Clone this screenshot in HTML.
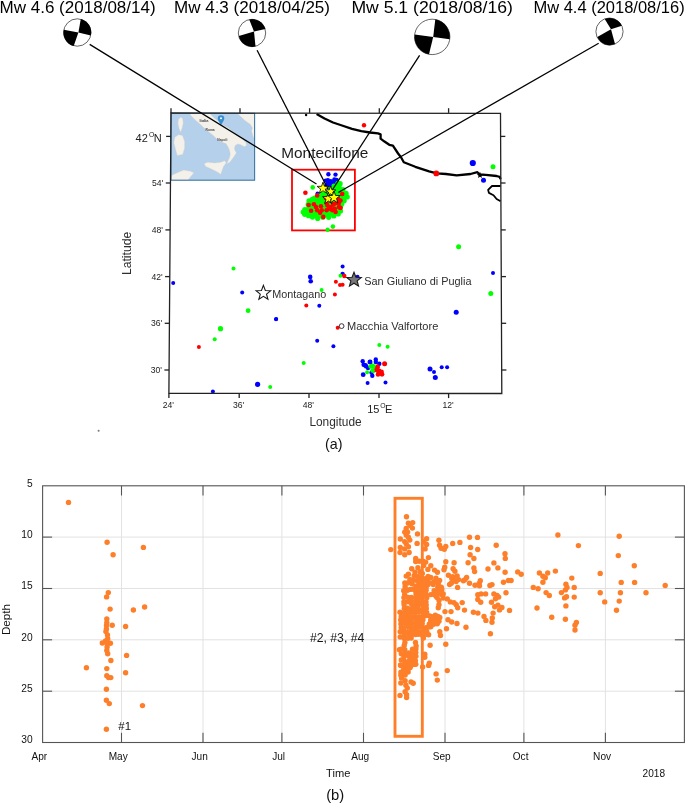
<!DOCTYPE html>
<html><head><meta charset="utf-8"><title>Figure</title>
<style>html,body{margin:0;padding:0;background:#fff;overflow:hidden;} svg{display:block;will-change:transform;} text{font-family:"Liberation Sans", sans-serif;}</style>
</head><body>
<svg width="685" height="803" viewBox="0 0 685 803">
<rect width="685" height="803" fill="#fff"/>
<text x="-0.5" y="13.3" font-size="16.4" fill="#000" textLength="156.2" lengthAdjust="spacingAndGlyphs">Mw 4.6 (2018/08/14)</text>
<text x="174.0" y="13.3" font-size="16.6" fill="#000" textLength="156.0" lengthAdjust="spacingAndGlyphs">Mw 4.3 (2018/04/25)</text>
<text x="351.4" y="13.2" font-size="17.2" fill="#000" textLength="161.5" lengthAdjust="spacingAndGlyphs">Mw 5.1 (2018/08/16)</text>
<text x="533.4" y="13.3" font-size="16.4" fill="#000" textLength="151.3" lengthAdjust="spacingAndGlyphs">Mw 4.4 (2018/08/16)</text>
<circle cx="77.3" cy="32.5" r="13.7" fill="#fff" stroke="#333" stroke-width="0.75"/>
<path d="M80.8,18.9 L78.4,32.6 L90.8,35.4 A13.7,13.7 0 0 0 80.8,18.9 Z" fill="#000"/>
<path d="M63.7,29.8 L78.4,32.6 L73.7,46.0 A13.7,13.7 0 0 1 63.7,29.8 Z" fill="#000"/>
<circle cx="252.0" cy="33.0" r="13.7" fill="#fff" stroke="#333" stroke-width="0.75"/>
<path d="M249.2,19.4 L254.0,31.6 L265.4,29.1 A13.7,13.7 0 0 0 249.2,19.4 Z" fill="#000"/>
<path d="M238.8,36.0 L254.0,31.6 L255.5,46.5 A13.7,13.7 0 0 1 238.8,36.0 Z" fill="#000"/>
<circle cx="432.2" cy="36.9" r="17.7" fill="#fff" stroke="#333" stroke-width="0.75"/>
<path d="M435.3,19.3 L433.2,36.9 L449.7,39.3 A17.7,17.7 0 0 0 435.3,19.3 Z" fill="#000"/>
<path d="M414.7,34.4 L433.2,36.9 L429.0,54.3 A17.7,17.7 0 0 1 414.7,34.4 Z" fill="#000"/>
<circle cx="609.5" cy="31.6" r="13.6" fill="#fff" stroke="#333" stroke-width="0.75"/>
<path d="M604.7,19.0 L611.0,29.2 L621.9,25.8 A13.6,13.6 0 0 0 604.7,19.0 Z" fill="#000"/>
<path d="M597.3,37.1 L611.0,29.2 L615.0,44.1 A13.6,13.6 0 0 1 597.3,37.1 Z" fill="#000"/>
<rect x="171.0" y="113.4" width="83.6" height="66.79999999999998" fill="#b5d0ea"/>
<polygon points="178.5,119.1 180.9,117.3 182.7,118.6 183.2,123.1 182.2,127.8 180.6,132.3 179.0,128.3 178.0,123.5" fill="#f4f1ea" stroke="#d6d0c4" stroke-width="0.35"/>
<polygon points="174.8,137.3 178.5,134.7 182.5,135.4 184.6,141.5 184.6,148.1 182.7,154.4 177.2,155.4 175.6,149.4 173.8,142.8" fill="#f4f1ea" stroke="#d6d0c4" stroke-width="0.35"/>
<polygon points="204.1,163.8 207.7,162.2 214.3,163.0 220.8,162.2 224.8,160.7 226.1,162.9 223.5,166.5 222.1,170.4 220.8,174.3 216.9,171.7 211.4,169.1 205.8,166.5" fill="#f4f1ea" stroke="#d6d0c4" stroke-width="0.35"/>
<polygon points="170.9,175.7 177.2,172.8 183.8,170.1 190.3,171.2 193.9,172.8 190.6,176.7 187.7,180.4 170.9,180.4" fill="#f4f1ea" stroke="#d6d0c4" stroke-width="0.35"/>
<polygon points="189.5,113.4 190.9,115.6 195.3,120.0 200.5,124.4 204.9,128.8 209.3,132.3 213.6,135.8 217.1,139.3 221.5,141.9 225.9,143.6 227.7,146.3 229.4,149.8 230.3,154.2 229.4,158.0 228.0,161.0 226.8,163.8 229.8,162.2 233.7,157.0 236.3,153.0 234.4,149.1 235.0,145.8 237.6,143.9 240.3,144.5 244.2,146.7 246.5,145.4 246.0,142.8 242.5,139.3 238.2,136.6 233.8,133.1 229.4,128.8 226.8,127.0 222.4,125.3 218.9,121.8 214.5,118.3 211.0,114.8 210.1,113.4" fill="#f4f1ea" stroke="#d6d0c4" stroke-width="0.35"/>
<polygon points="237.3,113.4 240.8,116.5 244.3,120.0 247.8,122.6 250.5,124.6 252.5,128.0 251.5,131.0 253.0,136.0 254.6,140.0 254.6,113.4" fill="#f4f1ea" stroke="#d6d0c4" stroke-width="0.35"/>
<rect x="171.0" y="113.4" width="83.6" height="66.79999999999998" fill="none" stroke="#3d77a3" stroke-width="1.1"/>
<text x="199.5" y="121.8" font-size="3.9" fill="#444" text-anchor="start" font-weight="bold">Italia</text>
<text x="205.5" y="131.1" font-size="3.3" fill="#444" text-anchor="start" font-weight="bold">Roma</text>
<text x="217.3" y="141.2" font-size="3.3" fill="#444" text-anchor="start" font-weight="bold">Napoli</text>
<path d="M221.0,125.3 C219.5,122.2 217.7,120.7 217.7,118.5 A3.3,3.3 0 1 1 224.3,118.5 C224.3,120.7 222.5,122.2 221.0,125.3 Z" fill="#3b8fd1"/>
<circle cx="221.0" cy="118.3" r="1.0" fill="#fff"/>
<polyline points="316.6,114.1 324.5,118.5 333,122.5 342,125.5 352,128.8 361.3,131.1 370,132.5 378,133.4 380.6,134.3 380.6,138.7 384.1,141.3 389.3,144.8 392.9,145.7 398.1,153.5 401,157.2 403.8,162.2 415.3,166.8 429.1,171.4 436.8,173.4 446,174 456.7,175.3 470.5,174 477.4,172.2 479.7,174.5 485.8,174.9 496.6,176 499.6,176.8 500.6,179.1" fill="none" stroke="#000" stroke-width="2.3" stroke-linejoin="round"/>
<polyline points="500.6,186 492,186 488.1,189.8 488.9,192.9 493.5,195.2 496.6,199 500.6,201.3" fill="none" stroke="#000" stroke-width="1.8" stroke-linejoin="round"/>
<circle cx="306.1" cy="115.0" r="1.2" fill="#000"/>
<polygon points="480.00,171.80 480.88,173.99 483.23,174.15 481.43,175.66 482.00,177.95 480.00,176.70 478.00,177.95 478.57,175.66 476.77,174.15 479.12,173.99" fill="#000"/>
<rect x="292.0" y="169.7" width="62.9" height="60.7" fill="none" stroke="#f00" stroke-width="1.8"/>
<polygon points="325.7,180.6 327.9,180.3 330.8,181.3 334.4,179.5 336.6,179.9 334.8,183.1 331.8,185.3 328.9,187.1 326.4,185.2" fill="#0000ff" stroke="none" stroke-width="0"/>
<circle cx="325.7" cy="180.6" r="2.2" fill="#0000ff"/>
<circle cx="327.9" cy="180.3" r="2.2" fill="#0000ff"/>
<circle cx="330.8" cy="181.3" r="2.2" fill="#0000ff"/>
<circle cx="334.4" cy="179.5" r="2.2" fill="#0000ff"/>
<circle cx="336.6" cy="179.9" r="2.2" fill="#0000ff"/>
<circle cx="334.8" cy="183.1" r="2.2" fill="#0000ff"/>
<circle cx="331.8" cy="185.3" r="2.2" fill="#0000ff"/>
<circle cx="328.9" cy="187.1" r="2.2" fill="#0000ff"/>
<circle cx="326.4" cy="185.2" r="2.2" fill="#0000ff"/>
<circle cx="328.4" cy="174.2" r="2.2" fill="#0000ff"/>
<circle cx="335.5" cy="174.6" r="2.2" fill="#0000ff"/>
<circle cx="317.5" cy="193.5" r="2.0" fill="#0000ff"/>
<polygon points="312.2,199.4 309.0,200.8 308.2,204.4 304.8,209.7 303.2,212.1 304.7,214.3 308.6,215.7 312.5,217.1 317.7,218.4 322.9,217.3 328.7,217.3 333.8,216.0 338.2,213.9 340.5,211.0 340.7,206.6 341.8,203.7 344.2,200.7 347.2,196.9 346.1,193.3 343.0,189.5 340.1,183.7 337.9,183.4 334.0,186.0 330.1,189.3 325.2,193.5 321.8,194.2 318.3,196.1 314.5,198.1" fill="#00ff00" stroke="none" stroke-width="0"/>
<circle cx="312.2" cy="199.4" r="2.6" fill="#00ff00"/>
<circle cx="309.0" cy="200.8" r="2.6" fill="#00ff00"/>
<circle cx="308.2" cy="204.4" r="2.6" fill="#00ff00"/>
<circle cx="304.8" cy="209.7" r="2.6" fill="#00ff00"/>
<circle cx="303.2" cy="212.1" r="2.6" fill="#00ff00"/>
<circle cx="304.7" cy="214.3" r="2.6" fill="#00ff00"/>
<circle cx="308.6" cy="215.7" r="2.6" fill="#00ff00"/>
<circle cx="312.5" cy="217.1" r="2.6" fill="#00ff00"/>
<circle cx="317.7" cy="218.4" r="2.6" fill="#00ff00"/>
<circle cx="322.9" cy="217.3" r="2.6" fill="#00ff00"/>
<circle cx="328.7" cy="217.3" r="2.6" fill="#00ff00"/>
<circle cx="333.8" cy="216.0" r="2.6" fill="#00ff00"/>
<circle cx="338.2" cy="213.9" r="2.6" fill="#00ff00"/>
<circle cx="340.5" cy="211.0" r="2.6" fill="#00ff00"/>
<circle cx="340.7" cy="206.6" r="2.6" fill="#00ff00"/>
<circle cx="341.8" cy="203.7" r="2.6" fill="#00ff00"/>
<circle cx="344.2" cy="200.7" r="2.6" fill="#00ff00"/>
<circle cx="347.2" cy="196.9" r="2.6" fill="#00ff00"/>
<circle cx="346.1" cy="193.3" r="2.6" fill="#00ff00"/>
<circle cx="343.0" cy="189.5" r="2.6" fill="#00ff00"/>
<circle cx="340.1" cy="183.7" r="2.6" fill="#00ff00"/>
<circle cx="337.9" cy="183.4" r="2.6" fill="#00ff00"/>
<circle cx="334.0" cy="186.0" r="2.6" fill="#00ff00"/>
<circle cx="330.1" cy="189.3" r="2.6" fill="#00ff00"/>
<circle cx="325.2" cy="193.5" r="2.6" fill="#00ff00"/>
<circle cx="321.8" cy="194.2" r="2.6" fill="#00ff00"/>
<circle cx="318.3" cy="196.1" r="2.6" fill="#00ff00"/>
<circle cx="314.5" cy="198.1" r="2.6" fill="#00ff00"/>
<circle cx="312.7" cy="187.4" r="2.3" fill="#00ff00"/>
<circle cx="332.9" cy="226.6" r="2.3" fill="#00ff00"/>
<circle cx="327.6" cy="229.8" r="2.2" fill="#00ff00"/>
<circle cx="305.4" cy="192.8" r="2.3" fill="#ff0000"/>
<circle cx="317.2" cy="195.5" r="2.3" fill="#ff0000"/>
<circle cx="342.2" cy="194.0" r="2.3" fill="#ff0000"/>
<circle cx="308.6" cy="205.0" r="2.3" fill="#ff0000"/>
<circle cx="313.9" cy="204.2" r="2.3" fill="#ff0000"/>
<circle cx="311.1" cy="210.8" r="2.3" fill="#ff0000"/>
<circle cx="317.2" cy="210.3" r="2.3" fill="#ff0000"/>
<circle cx="320.9" cy="206.3" r="2.3" fill="#ff0000"/>
<circle cx="321.7" cy="210.3" r="2.3" fill="#ff0000"/>
<circle cx="320.1" cy="212.8" r="2.3" fill="#ff0000"/>
<circle cx="323.3" cy="216.9" r="2.3" fill="#ff0000"/>
<circle cx="327.4" cy="205.4" r="2.3" fill="#ff0000"/>
<circle cx="330.7" cy="207.1" r="2.3" fill="#ff0000"/>
<circle cx="326.6" cy="210.3" r="2.3" fill="#ff0000"/>
<circle cx="332.3" cy="210.3" r="2.3" fill="#ff0000"/>
<circle cx="335.6" cy="212.0" r="2.3" fill="#ff0000"/>
<circle cx="338.9" cy="203.0" r="2.3" fill="#ff0000"/>
<circle cx="340.5" cy="207.9" r="2.3" fill="#ff0000"/>
<circle cx="338.1" cy="198.9" r="2.3" fill="#ff0000"/>
<circle cx="325.8" cy="198.1" r="2.3" fill="#ff0000"/>
<circle cx="334.0" cy="204.0" r="2.3" fill="#ff0000"/>
<circle cx="316.0" cy="207.0" r="2.3" fill="#ff0000"/>
<circle cx="326.6" cy="203.0" r="2.3" fill="#ff0000"/>
<circle cx="330.7" cy="200.5" r="2.3" fill="#ff0000"/>
<circle cx="336.4" cy="203.0" r="2.3" fill="#ff0000"/>
<circle cx="338.9" cy="207.1" r="2.3" fill="#ff0000"/>
<circle cx="334.8" cy="208.7" r="2.3" fill="#ff0000"/>
<circle cx="329.1" cy="208.7" r="2.3" fill="#ff0000"/>
<circle cx="333.2" cy="204.6" r="2.3" fill="#ff0000"/>
<circle cx="340.5" cy="200.5" r="2.3" fill="#ff0000"/>
<circle cx="364.0" cy="125.2" r="2.2" fill="#ff0000"/>
<circle cx="436.3" cy="173.4" r="2.9" fill="#ff0000"/>
<circle cx="472.8" cy="163.0" r="3.1" fill="#0000ff"/>
<circle cx="493.0" cy="166.8" r="2.5" fill="#00ff00"/>
<circle cx="483.5" cy="180.2" r="2.5" fill="#0000ff"/>
<circle cx="458.6" cy="246.8" r="2.5" fill="#00ff00"/>
<circle cx="493.0" cy="272.9" r="2.0" fill="#0000ff"/>
<circle cx="490.8" cy="293.4" r="2.5" fill="#00ff00"/>
<circle cx="456.2" cy="312.2" r="2.5" fill="#0000ff"/>
<circle cx="173.2" cy="282.9" r="2.0" fill="#0000ff"/>
<circle cx="233.5" cy="268.4" r="2.0" fill="#00ff00"/>
<circle cx="242.2" cy="292.4" r="2.0" fill="#0000ff"/>
<circle cx="248.1" cy="310.7" r="2.4" fill="#00ff00"/>
<circle cx="276.2" cy="319.1" r="2.0" fill="#0000ff"/>
<circle cx="220.5" cy="328.7" r="2.6" fill="#00ff00"/>
<circle cx="214.7" cy="339.3" r="2.0" fill="#00ff00"/>
<circle cx="198.9" cy="347.1" r="2.0" fill="#ff0000"/>
<circle cx="257.6" cy="384.3" r="2.6" fill="#0000ff"/>
<circle cx="270.2" cy="387.1" r="2.0" fill="#00ff00"/>
<circle cx="212.9" cy="391.5" r="2.0" fill="#0000ff"/>
<circle cx="342.6" cy="266.4" r="2.0" fill="#0000ff"/>
<circle cx="310.2" cy="276.9" r="2.3" fill="#0000ff"/>
<circle cx="310.7" cy="281.3" r="2.3" fill="#0000ff"/>
<circle cx="342.6" cy="273.9" r="2.2" fill="#0000ff"/>
<circle cx="340.5" cy="275.7" r="2.0" fill="#00ff00"/>
<circle cx="344.3" cy="276.0" r="2.2" fill="#ff0000"/>
<circle cx="335.9" cy="281.8" r="2.0" fill="#ff0000"/>
<circle cx="340.0" cy="285.1" r="2.0" fill="#ff0000"/>
<circle cx="342.6" cy="284.8" r="2.0" fill="#ff0000"/>
<circle cx="321.6" cy="290.0" r="2.0" fill="#00ff00"/>
<circle cx="334.9" cy="294.4" r="2.0" fill="#ff0000"/>
<circle cx="306.3" cy="305.5" r="2.0" fill="#ff0000"/>
<circle cx="319.3" cy="305.8" r="2.0" fill="#0000ff"/>
<circle cx="276.0" cy="319.3" r="2.0" fill="#0000ff"/>
<circle cx="337.7" cy="327.7" r="2.0" fill="#ff0000"/>
<circle cx="317.2" cy="340.7" r="2.0" fill="#0000ff"/>
<circle cx="333.4" cy="346.3" r="2.0" fill="#0000ff"/>
<circle cx="379.3" cy="345.1" r="2.0" fill="#00ff00"/>
<circle cx="387.6" cy="346.8" r="2.0" fill="#00ff00"/>
<circle cx="303.7" cy="362.9" r="2.0" fill="#00ff00"/>
<circle cx="362.7" cy="361.2" r="2.2" fill="#0000ff"/>
<circle cx="363.6" cy="364.7" r="2.2" fill="#0000ff"/>
<circle cx="366.2" cy="366.4" r="2.2" fill="#0000ff"/>
<circle cx="369.7" cy="362.0" r="2.2" fill="#0000ff"/>
<circle cx="375.8" cy="359.4" r="2.2" fill="#0000ff"/>
<circle cx="375.8" cy="362.0" r="2.2" fill="#0000ff"/>
<circle cx="379.3" cy="363.8" r="2.2" fill="#0000ff"/>
<circle cx="363.2" cy="374.7" r="2.4" fill="#0000ff"/>
<circle cx="371.5" cy="372.6" r="2.2" fill="#0000ff"/>
<circle cx="372.3" cy="375.7" r="2.2" fill="#0000ff"/>
<circle cx="367.6" cy="383.1" r="2.0" fill="#0000ff"/>
<circle cx="385.5" cy="382.5" r="2.0" fill="#0000ff"/>
<circle cx="368.0" cy="368.0" r="2.2" fill="#0000ff"/>
<circle cx="372.3" cy="365.5" r="2.2" fill="#00ff00"/>
<circle cx="367.1" cy="372.2" r="2.0" fill="#00ff00"/>
<circle cx="373.7" cy="370.8" r="2.2" fill="#00ff00"/>
<circle cx="370.5" cy="366.5" r="2.2" fill="#00ff00"/>
<circle cx="377.6" cy="366.4" r="2.2" fill="#ff0000"/>
<circle cx="384.6" cy="363.8" r="2.5" fill="#ff0000"/>
<circle cx="375.8" cy="369.9" r="2.2" fill="#ff0000"/>
<circle cx="379.3" cy="371.7" r="2.2" fill="#ff0000"/>
<circle cx="382.0" cy="374.3" r="2.4" fill="#ff0000"/>
<circle cx="378.5" cy="372.6" r="2.2" fill="#ff0000"/>
<circle cx="365.5" cy="365.4" r="2.4" fill="#0000ff"/>
<circle cx="370.2" cy="361.9" r="2.3" fill="#0000ff"/>
<circle cx="373.5" cy="366.5" r="2.4" fill="#00ff00"/>
<circle cx="372.5" cy="370.5" r="2.3" fill="#00ff00"/>
<circle cx="379.0" cy="371.0" r="2.4" fill="#ff0000"/>
<circle cx="381.5" cy="372.0" r="2.4" fill="#ff0000"/>
<circle cx="378.0" cy="374.5" r="2.3" fill="#ff0000"/>
<circle cx="377.5" cy="367.5" r="2.3" fill="#ff0000"/>
<circle cx="430.0" cy="369.0" r="2.5" fill="#0000ff"/>
<circle cx="434.0" cy="372.0" r="2.0" fill="#0000ff"/>
<circle cx="435.3" cy="377.4" r="2.5" fill="#0000ff"/>
<circle cx="441.7" cy="367.3" r="2.0" fill="#0000ff"/>
<circle cx="447.1" cy="367.3" r="2.0" fill="#0000ff"/>
<circle cx="357.5" cy="276.8" r="2.0" fill="#0000ff"/>
<polygon points="263.40,285.40 265.34,290.43 270.72,290.72 266.54,294.12 267.93,299.33 263.40,296.40 258.87,299.33 260.26,294.12 256.08,290.72 261.46,290.43" fill="#fff" stroke="#1a1a1a" stroke-width="1.1"/>
<polygon points="354.00,272.20 355.94,277.23 361.32,277.52 357.14,280.92 358.53,286.13 354.00,283.20 349.47,286.13 350.86,280.92 346.68,277.52 352.06,277.23" fill="#777" stroke="#1a1a1a" stroke-width="1.1"/>
<circle cx="341.6" cy="326.1" r="2.4" fill="#fff" stroke="#222" stroke-width="0.9"/>
<text x="272.3" y="297.9" font-size="10.8" fill="#2e2e2e" text-anchor="start">Montagano</text>
<text x="364.3" y="284.5" font-size="10.9" fill="#2e2e2e" text-anchor="start">San Giuliano di Puglia</text>
<text x="347.0" y="329.6" font-size="11.05" fill="#2e2e2e" text-anchor="start">Macchia Valfortore</text>
<text x="281.3" y="157.6" font-size="15.35" fill="#1c1c1c" text-anchor="start">Montecilfone</text>
<polygon points="171.0,112.9 500.5,113.4 501.8,393.5 168.9,393.4" fill="none" stroke="#222" stroke-width="1.3"/>
<line x1="171.0" y1="112.9" x2="171.0" y2="108.2" stroke="#222" stroke-width="1.3"/>
<line x1="240.0" y1="112.9" x2="240.0" y2="108.2" stroke="#222" stroke-width="1.3"/>
<line x1="309.6" y1="112.9" x2="309.6" y2="108.2" stroke="#222" stroke-width="1.3"/>
<line x1="379.3" y1="112.9" x2="379.3" y2="108.2" stroke="#222" stroke-width="1.3"/>
<line x1="448.6" y1="112.9" x2="448.6" y2="108.2" stroke="#222" stroke-width="1.3"/>
<line x1="168.9" y1="393.4" x2="168.9" y2="398.09999999999997" stroke="#222" stroke-width="1.3"/>
<line x1="239.2" y1="393.4" x2="239.2" y2="398.09999999999997" stroke="#222" stroke-width="1.3"/>
<line x1="309.0" y1="393.4" x2="309.0" y2="398.09999999999997" stroke="#222" stroke-width="1.3"/>
<line x1="379.0" y1="393.4" x2="379.0" y2="398.09999999999997" stroke="#222" stroke-width="1.3"/>
<line x1="448.6" y1="393.4" x2="448.6" y2="398.09999999999997" stroke="#222" stroke-width="1.3"/>
<line x1="170.82" y1="136.4" x2="166.12" y2="136.4" stroke="#222" stroke-width="1.3"/>
<line x1="500.61" y1="136.4" x2="505.31" y2="136.4" stroke="#222" stroke-width="1.3"/>
<line x1="170.48" y1="183.0" x2="165.78" y2="183.0" stroke="#222" stroke-width="1.3"/>
<line x1="500.82" y1="183.0" x2="505.52" y2="183.0" stroke="#222" stroke-width="1.3"/>
<line x1="170.12" y1="229.9" x2="165.42" y2="229.9" stroke="#222" stroke-width="1.3"/>
<line x1="501.04" y1="229.9" x2="505.74" y2="229.9" stroke="#222" stroke-width="1.3"/>
<line x1="169.77" y1="276.6" x2="165.07" y2="276.6" stroke="#222" stroke-width="1.3"/>
<line x1="501.26" y1="276.6" x2="505.96" y2="276.6" stroke="#222" stroke-width="1.3"/>
<line x1="169.42" y1="323.3" x2="164.72" y2="323.3" stroke="#222" stroke-width="1.3"/>
<line x1="501.47" y1="323.3" x2="506.17" y2="323.3" stroke="#222" stroke-width="1.3"/>
<line x1="169.08" y1="370.0" x2="164.38" y2="370.0" stroke="#222" stroke-width="1.3"/>
<line x1="501.69" y1="370.0" x2="506.39" y2="370.0" stroke="#222" stroke-width="1.3"/>
<text x="135.6" y="141.8" font-size="11" fill="#222" text-anchor="start">42</text>
<text x="148.9" y="136.8" font-size="6.8" fill="#222" text-anchor="start">O</text>
<text x="153.7" y="141.8" font-size="11" fill="#222" text-anchor="start">N</text>
<text x="367.2" y="412.9" font-size="11" fill="#222" text-anchor="start">15</text>
<text x="380.3" y="408.0" font-size="6.8" fill="#222" text-anchor="start">O</text>
<text x="385.0" y="412.9" font-size="11" fill="#222" text-anchor="start">E</text>
<text x="163.3" y="186.1" font-size="8.6" fill="#222" text-anchor="end">54'</text>
<text x="162.9" y="233.0" font-size="8.6" fill="#222" text-anchor="end">48'</text>
<text x="162.6" y="279.7" font-size="8.6" fill="#222" text-anchor="end">42'</text>
<text x="162.2" y="326.4" font-size="8.6" fill="#222" text-anchor="end">36'</text>
<text x="161.9" y="373.1" font-size="8.6" fill="#222" text-anchor="end">30'</text>
<text x="168.3" y="408.0" font-size="8.6" fill="#222" text-anchor="middle">24'</text>
<text x="238.6" y="408.0" font-size="8.6" fill="#222" text-anchor="middle">36'</text>
<text x="308.4" y="408.0" font-size="8.6" fill="#222" text-anchor="middle">48'</text>
<text x="448.0" y="408.0" font-size="8.6" fill="#222" text-anchor="middle">12'</text>
<text x="0" y="0" font-size="12.2" fill="#2e2e2e" text-anchor="middle" transform="translate(130.9,253.4) rotate(-90)">Latitude</text>
<text x="335.5" y="426.1" font-size="11.9" fill="#2e2e2e" text-anchor="middle">Longitude</text>
<text x="333.7" y="448.8" font-size="14.3" fill="#111" text-anchor="middle">(a)</text>
<circle cx="98.6" cy="430.7" r="1.0" fill="#777"/>
<line x1="89.7" y1="44.4" x2="316.5" y2="184.0" stroke="#000" stroke-width="1.3"/>
<line x1="257.1" y1="50.2" x2="328.0" y2="189.0" stroke="#000" stroke-width="1.3"/>
<line x1="419.6" y1="55.4" x2="331.0" y2="192.0" stroke="#000" stroke-width="1.3"/>
<line x1="598.7" y1="43.2" x2="338.3" y2="192.5" stroke="#000" stroke-width="1.3"/>
<polygon points="330.60,186.00 331.92,189.79 335.93,189.87 332.73,192.29 333.89,196.13 330.60,193.84 327.31,196.13 328.47,192.29 325.27,189.87 329.28,189.79" fill="#ffff00" stroke="#000" stroke-width="0.8"/>
<polygon points="328.40,192.40 329.86,196.59 334.30,196.68 330.76,199.37 332.04,203.62 328.40,201.08 324.76,203.62 326.04,199.37 322.50,196.68 326.94,196.59" fill="#ffff00" stroke="#000" stroke-width="0.8"/>
<polygon points="323.00,182.10 324.46,186.29 328.90,186.38 325.36,189.07 326.64,193.32 323.00,190.78 319.36,193.32 320.64,189.07 317.10,186.38 321.54,186.29" fill="#ffff00" stroke="#000" stroke-width="0.8"/>
<polygon points="334.00,191.00 335.55,195.46 340.28,195.56 336.51,198.42 337.88,202.94 334.00,200.24 330.12,202.94 331.49,198.42 327.72,195.56 332.45,195.46" fill="#ffff00" stroke="#000" stroke-width="0.8"/>
<line x1="121.5" y1="485.8" x2="121.5" y2="742.5" stroke="#e2e2e2" stroke-width="1"/>
<line x1="203.0" y1="485.8" x2="203.0" y2="742.5" stroke="#e2e2e2" stroke-width="1"/>
<line x1="281.9" y1="485.8" x2="281.9" y2="742.5" stroke="#e2e2e2" stroke-width="1"/>
<line x1="363.5" y1="485.8" x2="363.5" y2="742.5" stroke="#e2e2e2" stroke-width="1"/>
<line x1="445.0" y1="485.8" x2="445.0" y2="742.5" stroke="#e2e2e2" stroke-width="1"/>
<line x1="523.9" y1="485.8" x2="523.9" y2="742.5" stroke="#e2e2e2" stroke-width="1"/>
<line x1="605.4" y1="485.8" x2="605.4" y2="742.5" stroke="#e2e2e2" stroke-width="1"/>
<line x1="42.6" y1="537.1" x2="684.4" y2="537.1" stroke="#e2e2e2" stroke-width="1"/>
<line x1="42.6" y1="588.5" x2="684.4" y2="588.5" stroke="#e2e2e2" stroke-width="1"/>
<line x1="42.6" y1="639.8" x2="684.4" y2="639.8" stroke="#e2e2e2" stroke-width="1"/>
<line x1="42.6" y1="691.2" x2="684.4" y2="691.2" stroke="#e2e2e2" stroke-width="1"/>
<circle cx="419.0" cy="583.3" r="2.7" fill="#fe7f2a"/>
<circle cx="405.1" cy="586.8" r="2.7" fill="#fe7f2a"/>
<circle cx="416.0" cy="586.2" r="2.7" fill="#fe7f2a"/>
<circle cx="418.9" cy="586.3" r="2.7" fill="#fe7f2a"/>
<circle cx="422.5" cy="586.7" r="2.7" fill="#fe7f2a"/>
<circle cx="426.3" cy="586.5" r="2.7" fill="#fe7f2a"/>
<circle cx="437.8" cy="587.2" r="2.7" fill="#fe7f2a"/>
<circle cx="441.3" cy="587.2" r="2.7" fill="#fe7f2a"/>
<circle cx="403.7" cy="590.7" r="2.7" fill="#fe7f2a"/>
<circle cx="407.6" cy="590.3" r="2.7" fill="#fe7f2a"/>
<circle cx="415.3" cy="590.3" r="2.7" fill="#fe7f2a"/>
<circle cx="419.3" cy="590.7" r="2.7" fill="#fe7f2a"/>
<circle cx="422.3" cy="590.4" r="2.7" fill="#fe7f2a"/>
<circle cx="426.2" cy="590.0" r="2.7" fill="#fe7f2a"/>
<circle cx="434.1" cy="590.7" r="2.7" fill="#fe7f2a"/>
<circle cx="438.3" cy="590.2" r="2.7" fill="#fe7f2a"/>
<circle cx="441.6" cy="590.3" r="2.7" fill="#fe7f2a"/>
<circle cx="404.7" cy="594.5" r="2.7" fill="#fe7f2a"/>
<circle cx="416.0" cy="593.5" r="2.7" fill="#fe7f2a"/>
<circle cx="418.7" cy="593.9" r="2.7" fill="#fe7f2a"/>
<circle cx="422.3" cy="593.6" r="2.7" fill="#fe7f2a"/>
<circle cx="426.0" cy="594.2" r="2.7" fill="#fe7f2a"/>
<circle cx="430.7" cy="594.6" r="2.7" fill="#fe7f2a"/>
<circle cx="433.5" cy="594.3" r="2.7" fill="#fe7f2a"/>
<circle cx="437.9" cy="593.5" r="2.7" fill="#fe7f2a"/>
<circle cx="441.9" cy="594.7" r="2.7" fill="#fe7f2a"/>
<circle cx="403.9" cy="597.6" r="2.7" fill="#fe7f2a"/>
<circle cx="408.1" cy="597.5" r="2.7" fill="#fe7f2a"/>
<circle cx="411.4" cy="597.4" r="2.7" fill="#fe7f2a"/>
<circle cx="415.8" cy="597.0" r="2.7" fill="#fe7f2a"/>
<circle cx="419.3" cy="597.6" r="2.7" fill="#fe7f2a"/>
<circle cx="422.2" cy="597.5" r="2.7" fill="#fe7f2a"/>
<circle cx="426.8" cy="597.7" r="2.7" fill="#fe7f2a"/>
<circle cx="437.1" cy="597.4" r="2.7" fill="#fe7f2a"/>
<circle cx="403.9" cy="602.0" r="2.7" fill="#fe7f2a"/>
<circle cx="408.2" cy="601.7" r="2.7" fill="#fe7f2a"/>
<circle cx="411.2" cy="600.8" r="2.7" fill="#fe7f2a"/>
<circle cx="415.8" cy="601.3" r="2.7" fill="#fe7f2a"/>
<circle cx="418.6" cy="602.0" r="2.7" fill="#fe7f2a"/>
<circle cx="423.1" cy="601.8" r="2.7" fill="#fe7f2a"/>
<circle cx="426.0" cy="601.9" r="2.7" fill="#fe7f2a"/>
<circle cx="404.1" cy="604.8" r="2.7" fill="#fe7f2a"/>
<circle cx="411.8" cy="604.6" r="2.7" fill="#fe7f2a"/>
<circle cx="415.3" cy="604.4" r="2.7" fill="#fe7f2a"/>
<circle cx="418.9" cy="604.4" r="2.7" fill="#fe7f2a"/>
<circle cx="423.2" cy="605.2" r="2.7" fill="#fe7f2a"/>
<circle cx="426.2" cy="605.1" r="2.7" fill="#fe7f2a"/>
<circle cx="404.3" cy="608.6" r="2.7" fill="#fe7f2a"/>
<circle cx="407.5" cy="608.3" r="2.7" fill="#fe7f2a"/>
<circle cx="411.2" cy="609.1" r="2.7" fill="#fe7f2a"/>
<circle cx="415.2" cy="608.3" r="2.7" fill="#fe7f2a"/>
<circle cx="418.6" cy="609.3" r="2.7" fill="#fe7f2a"/>
<circle cx="423.4" cy="609.0" r="2.7" fill="#fe7f2a"/>
<circle cx="426.3" cy="608.4" r="2.7" fill="#fe7f2a"/>
<circle cx="400.0" cy="612.3" r="2.7" fill="#fe7f2a"/>
<circle cx="404.4" cy="612.5" r="2.7" fill="#fe7f2a"/>
<circle cx="407.7" cy="612.5" r="2.7" fill="#fe7f2a"/>
<circle cx="411.1" cy="612.2" r="2.7" fill="#fe7f2a"/>
<circle cx="414.9" cy="612.4" r="2.7" fill="#fe7f2a"/>
<circle cx="418.6" cy="611.8" r="2.7" fill="#fe7f2a"/>
<circle cx="422.6" cy="612.1" r="2.7" fill="#fe7f2a"/>
<circle cx="426.7" cy="612.5" r="2.7" fill="#fe7f2a"/>
<circle cx="401.2" cy="616.4" r="2.7" fill="#fe7f2a"/>
<circle cx="404.7" cy="616.6" r="2.7" fill="#fe7f2a"/>
<circle cx="407.6" cy="616.2" r="2.7" fill="#fe7f2a"/>
<circle cx="411.8" cy="616.7" r="2.7" fill="#fe7f2a"/>
<circle cx="415.9" cy="616.7" r="2.7" fill="#fe7f2a"/>
<circle cx="419.3" cy="616.7" r="2.7" fill="#fe7f2a"/>
<circle cx="423.2" cy="616.5" r="2.7" fill="#fe7f2a"/>
<circle cx="426.2" cy="615.5" r="2.7" fill="#fe7f2a"/>
<circle cx="429.8" cy="616.0" r="2.7" fill="#fe7f2a"/>
<circle cx="433.4" cy="616.7" r="2.7" fill="#fe7f2a"/>
<circle cx="437.8" cy="616.4" r="2.7" fill="#fe7f2a"/>
<circle cx="400.7" cy="619.9" r="2.7" fill="#fe7f2a"/>
<circle cx="404.6" cy="619.3" r="2.7" fill="#fe7f2a"/>
<circle cx="408.4" cy="619.6" r="2.7" fill="#fe7f2a"/>
<circle cx="411.2" cy="619.6" r="2.7" fill="#fe7f2a"/>
<circle cx="415.8" cy="619.5" r="2.7" fill="#fe7f2a"/>
<circle cx="419.5" cy="620.6" r="2.7" fill="#fe7f2a"/>
<circle cx="422.9" cy="619.7" r="2.7" fill="#fe7f2a"/>
<circle cx="430.7" cy="620.1" r="2.7" fill="#fe7f2a"/>
<circle cx="434.2" cy="619.3" r="2.7" fill="#fe7f2a"/>
<circle cx="437.2" cy="619.6" r="2.7" fill="#fe7f2a"/>
<circle cx="400.9" cy="623.9" r="2.7" fill="#fe7f2a"/>
<circle cx="404.6" cy="623.3" r="2.7" fill="#fe7f2a"/>
<circle cx="408.1" cy="623.6" r="2.7" fill="#fe7f2a"/>
<circle cx="411.8" cy="623.1" r="2.7" fill="#fe7f2a"/>
<circle cx="416.1" cy="623.2" r="2.7" fill="#fe7f2a"/>
<circle cx="419.9" cy="624.2" r="2.7" fill="#fe7f2a"/>
<circle cx="422.2" cy="623.5" r="2.7" fill="#fe7f2a"/>
<circle cx="430.2" cy="623.3" r="2.7" fill="#fe7f2a"/>
<circle cx="433.6" cy="624.2" r="2.7" fill="#fe7f2a"/>
<circle cx="437.3" cy="623.7" r="2.7" fill="#fe7f2a"/>
<circle cx="401.2" cy="627.6" r="2.7" fill="#fe7f2a"/>
<circle cx="404.0" cy="627.9" r="2.7" fill="#fe7f2a"/>
<circle cx="408.1" cy="626.6" r="2.7" fill="#fe7f2a"/>
<circle cx="411.1" cy="627.3" r="2.7" fill="#fe7f2a"/>
<circle cx="415.4" cy="627.0" r="2.7" fill="#fe7f2a"/>
<circle cx="418.7" cy="627.1" r="2.7" fill="#fe7f2a"/>
<circle cx="422.6" cy="627.8" r="2.7" fill="#fe7f2a"/>
<circle cx="425.9" cy="627.7" r="2.7" fill="#fe7f2a"/>
<circle cx="430.8" cy="626.8" r="2.7" fill="#fe7f2a"/>
<circle cx="403.8" cy="631.5" r="2.7" fill="#fe7f2a"/>
<circle cx="407.8" cy="631.6" r="2.7" fill="#fe7f2a"/>
<circle cx="411.4" cy="630.7" r="2.7" fill="#fe7f2a"/>
<circle cx="415.5" cy="630.6" r="2.7" fill="#fe7f2a"/>
<circle cx="419.0" cy="631.6" r="2.7" fill="#fe7f2a"/>
<circle cx="423.4" cy="631.4" r="2.7" fill="#fe7f2a"/>
<circle cx="426.8" cy="631.6" r="2.7" fill="#fe7f2a"/>
<circle cx="404.1" cy="635.0" r="2.7" fill="#fe7f2a"/>
<circle cx="408.8" cy="634.4" r="2.7" fill="#fe7f2a"/>
<circle cx="412.0" cy="634.4" r="2.7" fill="#fe7f2a"/>
<circle cx="415.6" cy="634.6" r="2.7" fill="#fe7f2a"/>
<circle cx="418.7" cy="634.2" r="2.7" fill="#fe7f2a"/>
<circle cx="422.5" cy="635.3" r="2.7" fill="#fe7f2a"/>
<circle cx="426.6" cy="634.3" r="2.7" fill="#fe7f2a"/>
<circle cx="404.3" cy="638.4" r="2.7" fill="#fe7f2a"/>
<circle cx="407.9" cy="638.2" r="2.7" fill="#fe7f2a"/>
<circle cx="411.2" cy="638.1" r="2.7" fill="#fe7f2a"/>
<circle cx="423.4" cy="638.0" r="2.7" fill="#fe7f2a"/>
<circle cx="404.9" cy="642.6" r="2.7" fill="#fe7f2a"/>
<circle cx="415.5" cy="642.4" r="2.7" fill="#fe7f2a"/>
<circle cx="404.2" cy="645.4" r="2.7" fill="#fe7f2a"/>
<circle cx="416.1" cy="646.0" r="2.7" fill="#fe7f2a"/>
<circle cx="401.0" cy="649.1" r="2.7" fill="#fe7f2a"/>
<circle cx="404.8" cy="649.8" r="2.7" fill="#fe7f2a"/>
<circle cx="412.5" cy="649.2" r="2.7" fill="#fe7f2a"/>
<circle cx="415.9" cy="649.1" r="2.7" fill="#fe7f2a"/>
<circle cx="401.3" cy="653.7" r="2.7" fill="#fe7f2a"/>
<circle cx="404.7" cy="653.9" r="2.7" fill="#fe7f2a"/>
<circle cx="408.7" cy="653.0" r="2.7" fill="#fe7f2a"/>
<circle cx="411.4" cy="653.8" r="2.7" fill="#fe7f2a"/>
<circle cx="415.8" cy="652.5" r="2.7" fill="#fe7f2a"/>
<circle cx="404.0" cy="656.7" r="2.7" fill="#fe7f2a"/>
<circle cx="408.7" cy="656.2" r="2.7" fill="#fe7f2a"/>
<circle cx="411.7" cy="657.3" r="2.7" fill="#fe7f2a"/>
<circle cx="415.9" cy="656.3" r="2.7" fill="#fe7f2a"/>
<circle cx="401.3" cy="659.9" r="2.7" fill="#fe7f2a"/>
<circle cx="404.0" cy="660.6" r="2.7" fill="#fe7f2a"/>
<circle cx="408.7" cy="661.2" r="2.7" fill="#fe7f2a"/>
<circle cx="411.6" cy="660.3" r="2.7" fill="#fe7f2a"/>
<circle cx="415.4" cy="660.6" r="2.7" fill="#fe7f2a"/>
<circle cx="400.5" cy="665.0" r="2.7" fill="#fe7f2a"/>
<circle cx="404.9" cy="665.0" r="2.7" fill="#fe7f2a"/>
<circle cx="407.8" cy="663.7" r="2.7" fill="#fe7f2a"/>
<circle cx="411.2" cy="664.3" r="2.7" fill="#fe7f2a"/>
<circle cx="415.8" cy="664.2" r="2.7" fill="#fe7f2a"/>
<circle cx="68.5" cy="502.4" r="2.7" fill="#fe7f2a"/>
<circle cx="107.1" cy="542.2" r="2.7" fill="#fe7f2a"/>
<circle cx="143.4" cy="547.4" r="2.7" fill="#fe7f2a"/>
<circle cx="113.1" cy="554.8" r="2.7" fill="#fe7f2a"/>
<circle cx="108.3" cy="592.6" r="2.7" fill="#fe7f2a"/>
<circle cx="106.6" cy="596.9" r="2.7" fill="#fe7f2a"/>
<circle cx="110.1" cy="609.1" r="2.7" fill="#fe7f2a"/>
<circle cx="133.4" cy="610.0" r="2.7" fill="#fe7f2a"/>
<circle cx="144.6" cy="607.0" r="2.7" fill="#fe7f2a"/>
<circle cx="106.8" cy="619.0" r="2.7" fill="#fe7f2a"/>
<circle cx="106.8" cy="622.6" r="2.7" fill="#fe7f2a"/>
<circle cx="112.2" cy="625.3" r="2.7" fill="#fe7f2a"/>
<circle cx="125.6" cy="626.5" r="2.7" fill="#fe7f2a"/>
<circle cx="106.4" cy="628.9" r="2.7" fill="#fe7f2a"/>
<circle cx="105.9" cy="631.6" r="2.7" fill="#fe7f2a"/>
<circle cx="107.7" cy="638.8" r="2.7" fill="#fe7f2a"/>
<circle cx="102.3" cy="643.0" r="2.7" fill="#fe7f2a"/>
<circle cx="106.8" cy="643.0" r="2.7" fill="#fe7f2a"/>
<circle cx="110.4" cy="643.3" r="2.7" fill="#fe7f2a"/>
<circle cx="107.1" cy="646.9" r="2.7" fill="#fe7f2a"/>
<circle cx="106.8" cy="650.5" r="2.7" fill="#fe7f2a"/>
<circle cx="107.7" cy="653.8" r="2.7" fill="#fe7f2a"/>
<circle cx="110.9" cy="660.5" r="2.7" fill="#fe7f2a"/>
<circle cx="126.6" cy="655.4" r="2.7" fill="#fe7f2a"/>
<circle cx="86.4" cy="667.7" r="2.7" fill="#fe7f2a"/>
<circle cx="106.8" cy="668.6" r="2.7" fill="#fe7f2a"/>
<circle cx="125.6" cy="672.7" r="2.7" fill="#fe7f2a"/>
<circle cx="106.8" cy="675.8" r="2.7" fill="#fe7f2a"/>
<circle cx="108.6" cy="677.6" r="2.7" fill="#fe7f2a"/>
<circle cx="110.8" cy="677.6" r="2.7" fill="#fe7f2a"/>
<circle cx="106.4" cy="689.2" r="2.7" fill="#fe7f2a"/>
<circle cx="106.4" cy="700.2" r="2.7" fill="#fe7f2a"/>
<circle cx="109.3" cy="703.6" r="2.7" fill="#fe7f2a"/>
<circle cx="142.5" cy="705.6" r="2.7" fill="#fe7f2a"/>
<circle cx="106.4" cy="729.2" r="2.7" fill="#fe7f2a"/>
<circle cx="105.5" cy="641.0" r="2.7" fill="#fe7f2a"/>
<circle cx="107.5" cy="635.0" r="2.7" fill="#fe7f2a"/>
<circle cx="106.5" cy="625.5" r="2.7" fill="#fe7f2a"/>
<circle cx="406.5" cy="516.8" r="2.7" fill="#fe7f2a"/>
<circle cx="408.4" cy="523.3" r="2.7" fill="#fe7f2a"/>
<circle cx="412.7" cy="522.6" r="2.7" fill="#fe7f2a"/>
<circle cx="412.4" cy="528.1" r="2.7" fill="#fe7f2a"/>
<circle cx="410.2" cy="525.5" r="2.7" fill="#fe7f2a"/>
<circle cx="406.2" cy="528.4" r="2.7" fill="#fe7f2a"/>
<circle cx="404.7" cy="532.1" r="2.7" fill="#fe7f2a"/>
<circle cx="407.6" cy="532.1" r="2.7" fill="#fe7f2a"/>
<circle cx="406.2" cy="535.0" r="2.7" fill="#fe7f2a"/>
<circle cx="408.4" cy="537.2" r="2.7" fill="#fe7f2a"/>
<circle cx="400.3" cy="539.0" r="2.7" fill="#fe7f2a"/>
<circle cx="409.8" cy="540.1" r="2.7" fill="#fe7f2a"/>
<circle cx="404.7" cy="541.6" r="2.7" fill="#fe7f2a"/>
<circle cx="406.2" cy="543.8" r="2.7" fill="#fe7f2a"/>
<circle cx="408.4" cy="546.7" r="2.7" fill="#fe7f2a"/>
<circle cx="400.3" cy="547.4" r="2.7" fill="#fe7f2a"/>
<circle cx="404.7" cy="548.9" r="2.7" fill="#fe7f2a"/>
<circle cx="400.0" cy="552.5" r="2.7" fill="#fe7f2a"/>
<circle cx="404.7" cy="554.7" r="2.7" fill="#fe7f2a"/>
<circle cx="409.1" cy="552.5" r="2.7" fill="#fe7f2a"/>
<circle cx="390.8" cy="549.6" r="2.7" fill="#fe7f2a"/>
<circle cx="417.5" cy="533.9" r="2.7" fill="#fe7f2a"/>
<circle cx="417.1" cy="543.4" r="2.7" fill="#fe7f2a"/>
<circle cx="426.6" cy="538.7" r="2.7" fill="#fe7f2a"/>
<circle cx="423.7" cy="541.6" r="2.7" fill="#fe7f2a"/>
<circle cx="426.6" cy="544.5" r="2.7" fill="#fe7f2a"/>
<circle cx="425.1" cy="548.9" r="2.7" fill="#fe7f2a"/>
<circle cx="415.7" cy="558.4" r="2.7" fill="#fe7f2a"/>
<circle cx="419.3" cy="561.3" r="2.7" fill="#fe7f2a"/>
<circle cx="423.0" cy="561.3" r="2.7" fill="#fe7f2a"/>
<circle cx="428.4" cy="557.6" r="2.7" fill="#fe7f2a"/>
<circle cx="438.9" cy="540.2" r="2.7" fill="#fe7f2a"/>
<circle cx="439.6" cy="545.3" r="2.7" fill="#fe7f2a"/>
<circle cx="441.1" cy="548.2" r="2.7" fill="#fe7f2a"/>
<circle cx="444.3" cy="549.3" r="2.7" fill="#fe7f2a"/>
<circle cx="445.8" cy="546.4" r="2.7" fill="#fe7f2a"/>
<circle cx="452.7" cy="543.5" r="2.7" fill="#fe7f2a"/>
<circle cx="459.9" cy="542.4" r="2.7" fill="#fe7f2a"/>
<circle cx="469.5" cy="537.3" r="2.7" fill="#fe7f2a"/>
<circle cx="470.6" cy="547.5" r="2.7" fill="#fe7f2a"/>
<circle cx="470.1" cy="554.7" r="2.7" fill="#fe7f2a"/>
<circle cx="473.9" cy="558.5" r="2.7" fill="#fe7f2a"/>
<circle cx="468.1" cy="562.8" r="2.7" fill="#fe7f2a"/>
<circle cx="445.8" cy="561.8" r="2.7" fill="#fe7f2a"/>
<circle cx="454.1" cy="562.8" r="2.7" fill="#fe7f2a"/>
<circle cx="444.7" cy="567.2" r="2.7" fill="#fe7f2a"/>
<circle cx="444.0" cy="569.8" r="2.7" fill="#fe7f2a"/>
<circle cx="453.1" cy="568.7" r="2.7" fill="#fe7f2a"/>
<circle cx="454.9" cy="571.2" r="2.7" fill="#fe7f2a"/>
<circle cx="425.7" cy="562.1" r="2.7" fill="#fe7f2a"/>
<circle cx="430.8" cy="565.8" r="2.7" fill="#fe7f2a"/>
<circle cx="427.9" cy="569.4" r="2.7" fill="#fe7f2a"/>
<circle cx="434.5" cy="570.1" r="2.7" fill="#fe7f2a"/>
<circle cx="437.4" cy="572.3" r="2.7" fill="#fe7f2a"/>
<circle cx="473.9" cy="568.0" r="2.7" fill="#fe7f2a"/>
<circle cx="474.6" cy="571.6" r="2.7" fill="#fe7f2a"/>
<circle cx="448.4" cy="575.3" r="2.7" fill="#fe7f2a"/>
<circle cx="452.7" cy="576.7" r="2.7" fill="#fe7f2a"/>
<circle cx="457.1" cy="576.0" r="2.7" fill="#fe7f2a"/>
<circle cx="454.2" cy="580.4" r="2.7" fill="#fe7f2a"/>
<circle cx="458.6" cy="579.6" r="2.7" fill="#fe7f2a"/>
<circle cx="465.1" cy="579.6" r="2.7" fill="#fe7f2a"/>
<circle cx="466.6" cy="577.4" r="2.7" fill="#fe7f2a"/>
<circle cx="469.5" cy="583.3" r="2.7" fill="#fe7f2a"/>
<circle cx="451.3" cy="583.3" r="2.7" fill="#fe7f2a"/>
<circle cx="427.2" cy="578.2" r="2.7" fill="#fe7f2a"/>
<circle cx="430.8" cy="577.4" r="2.7" fill="#fe7f2a"/>
<circle cx="436.0" cy="578.2" r="2.7" fill="#fe7f2a"/>
<circle cx="439.6" cy="580.4" r="2.7" fill="#fe7f2a"/>
<circle cx="429.4" cy="582.6" r="2.7" fill="#fe7f2a"/>
<circle cx="433.8" cy="581.8" r="2.7" fill="#fe7f2a"/>
<circle cx="477.5" cy="537.4" r="2.7" fill="#fe7f2a"/>
<circle cx="477.7" cy="549.5" r="2.7" fill="#fe7f2a"/>
<circle cx="496.2" cy="545.3" r="2.7" fill="#fe7f2a"/>
<circle cx="505.0" cy="553.7" r="2.7" fill="#fe7f2a"/>
<circle cx="505.3" cy="558.4" r="2.7" fill="#fe7f2a"/>
<circle cx="557.9" cy="535.0" r="2.7" fill="#fe7f2a"/>
<circle cx="578.4" cy="545.6" r="2.7" fill="#fe7f2a"/>
<circle cx="456.1" cy="581.5" r="2.7" fill="#fe7f2a"/>
<circle cx="449.6" cy="584.5" r="2.7" fill="#fe7f2a"/>
<circle cx="457.6" cy="587.4" r="2.7" fill="#fe7f2a"/>
<circle cx="463.4" cy="580.8" r="2.7" fill="#fe7f2a"/>
<circle cx="451.8" cy="578.6" r="2.7" fill="#fe7f2a"/>
<circle cx="439.0" cy="600.4" r="2.7" fill="#fe7f2a"/>
<circle cx="439.0" cy="604.8" r="2.7" fill="#fe7f2a"/>
<circle cx="438.3" cy="607.8" r="2.7" fill="#fe7f2a"/>
<circle cx="447.3" cy="598.9" r="2.7" fill="#fe7f2a"/>
<circle cx="450.3" cy="601.9" r="2.7" fill="#fe7f2a"/>
<circle cx="454.0" cy="602.6" r="2.7" fill="#fe7f2a"/>
<circle cx="456.2" cy="604.8" r="2.7" fill="#fe7f2a"/>
<circle cx="457.7" cy="607.8" r="2.7" fill="#fe7f2a"/>
<circle cx="462.2" cy="602.6" r="2.7" fill="#fe7f2a"/>
<circle cx="464.5" cy="610.1" r="2.7" fill="#fe7f2a"/>
<circle cx="445.0" cy="611.6" r="2.7" fill="#fe7f2a"/>
<circle cx="451.0" cy="611.6" r="2.7" fill="#fe7f2a"/>
<circle cx="473.4" cy="612.3" r="2.7" fill="#fe7f2a"/>
<circle cx="477.9" cy="613.1" r="2.7" fill="#fe7f2a"/>
<circle cx="435.3" cy="615.3" r="2.7" fill="#fe7f2a"/>
<circle cx="439.8" cy="617.5" r="2.7" fill="#fe7f2a"/>
<circle cx="436.8" cy="622.8" r="2.7" fill="#fe7f2a"/>
<circle cx="439.0" cy="621.3" r="2.7" fill="#fe7f2a"/>
<circle cx="448.0" cy="619.8" r="2.7" fill="#fe7f2a"/>
<circle cx="451.7" cy="622.0" r="2.7" fill="#fe7f2a"/>
<circle cx="457.0" cy="623.5" r="2.7" fill="#fe7f2a"/>
<circle cx="429.3" cy="624.3" r="2.7" fill="#fe7f2a"/>
<circle cx="446.5" cy="628.8" r="2.7" fill="#fe7f2a"/>
<circle cx="466.0" cy="627.3" r="2.7" fill="#fe7f2a"/>
<circle cx="439.8" cy="631.7" r="2.7" fill="#fe7f2a"/>
<circle cx="440.5" cy="635.5" r="2.7" fill="#fe7f2a"/>
<circle cx="428.6" cy="634.7" r="2.7" fill="#fe7f2a"/>
<circle cx="400.2" cy="631.7" r="2.7" fill="#fe7f2a"/>
<circle cx="400.2" cy="637.0" r="2.7" fill="#fe7f2a"/>
<circle cx="430.1" cy="645.2" r="2.7" fill="#fe7f2a"/>
<circle cx="445.8" cy="644.2" r="2.7" fill="#fe7f2a"/>
<circle cx="424.8" cy="654.2" r="2.7" fill="#fe7f2a"/>
<circle cx="424.8" cy="657.2" r="2.7" fill="#fe7f2a"/>
<circle cx="429.3" cy="663.1" r="2.7" fill="#fe7f2a"/>
<circle cx="428.6" cy="665.4" r="2.7" fill="#fe7f2a"/>
<circle cx="422.6" cy="666.9" r="2.7" fill="#fe7f2a"/>
<circle cx="447.3" cy="670.6" r="2.7" fill="#fe7f2a"/>
<circle cx="436.1" cy="673.9" r="2.7" fill="#fe7f2a"/>
<circle cx="399.4" cy="649.7" r="2.7" fill="#fe7f2a"/>
<circle cx="400.9" cy="672.1" r="2.7" fill="#fe7f2a"/>
<circle cx="435.9" cy="595.9" r="2.7" fill="#fe7f2a"/>
<circle cx="443.2" cy="598.1" r="2.7" fill="#fe7f2a"/>
<circle cx="441.7" cy="588.6" r="2.7" fill="#fe7f2a"/>
<circle cx="443.2" cy="594.0" r="2.7" fill="#fe7f2a"/>
<circle cx="428.6" cy="627.0" r="2.7" fill="#fe7f2a"/>
<circle cx="410.2" cy="589.4" r="2.7" fill="#fe7f2a"/>
<circle cx="413.2" cy="589.2" r="2.7" fill="#fe7f2a"/>
<circle cx="406.0" cy="589.6" r="2.7" fill="#fe7f2a"/>
<circle cx="415.7" cy="561.5" r="2.7" fill="#fe7f2a"/>
<circle cx="423.7" cy="565.5" r="2.7" fill="#fe7f2a"/>
<circle cx="417.9" cy="567.7" r="2.7" fill="#fe7f2a"/>
<circle cx="411.7" cy="568.8" r="2.7" fill="#fe7f2a"/>
<circle cx="415.0" cy="572.1" r="2.7" fill="#fe7f2a"/>
<circle cx="420.1" cy="571.7" r="2.7" fill="#fe7f2a"/>
<circle cx="422.3" cy="573.5" r="2.7" fill="#fe7f2a"/>
<circle cx="408.4" cy="574.2" r="2.7" fill="#fe7f2a"/>
<circle cx="406.2" cy="576.1" r="2.7" fill="#fe7f2a"/>
<circle cx="414.2" cy="575.7" r="2.7" fill="#fe7f2a"/>
<circle cx="417.9" cy="576.4" r="2.7" fill="#fe7f2a"/>
<circle cx="428.1" cy="576.4" r="2.7" fill="#fe7f2a"/>
<circle cx="420.8" cy="577.9" r="2.7" fill="#fe7f2a"/>
<circle cx="423.7" cy="578.6" r="2.7" fill="#fe7f2a"/>
<circle cx="409.9" cy="579.4" r="2.7" fill="#fe7f2a"/>
<circle cx="413.5" cy="580.1" r="2.7" fill="#fe7f2a"/>
<circle cx="417.2" cy="580.8" r="2.7" fill="#fe7f2a"/>
<circle cx="420.1" cy="581.5" r="2.7" fill="#fe7f2a"/>
<circle cx="426.7" cy="580.8" r="2.7" fill="#fe7f2a"/>
<circle cx="436.9" cy="581.5" r="2.7" fill="#fe7f2a"/>
<circle cx="404.8" cy="583.0" r="2.7" fill="#fe7f2a"/>
<circle cx="407.7" cy="583.0" r="2.7" fill="#fe7f2a"/>
<circle cx="412.1" cy="583.7" r="2.7" fill="#fe7f2a"/>
<circle cx="423.7" cy="583.7" r="2.7" fill="#fe7f2a"/>
<circle cx="428.1" cy="584.5" r="2.7" fill="#fe7f2a"/>
<circle cx="433.2" cy="584.5" r="2.7" fill="#fe7f2a"/>
<circle cx="438.3" cy="583.7" r="2.7" fill="#fe7f2a"/>
<circle cx="400.8" cy="665.5" r="2.7" fill="#fe7f2a"/>
<circle cx="405.9" cy="665.5" r="2.7" fill="#fe7f2a"/>
<circle cx="411.0" cy="665.5" r="2.7" fill="#fe7f2a"/>
<circle cx="413.9" cy="664.4" r="2.7" fill="#fe7f2a"/>
<circle cx="403.7" cy="669.1" r="2.7" fill="#fe7f2a"/>
<circle cx="408.1" cy="669.1" r="2.7" fill="#fe7f2a"/>
<circle cx="410.2" cy="667.6" r="2.7" fill="#fe7f2a"/>
<circle cx="404.4" cy="672.0" r="2.7" fill="#fe7f2a"/>
<circle cx="408.1" cy="672.0" r="2.7" fill="#fe7f2a"/>
<circle cx="400.8" cy="675.0" r="2.7" fill="#fe7f2a"/>
<circle cx="405.1" cy="675.0" r="2.7" fill="#fe7f2a"/>
<circle cx="401.5" cy="677.9" r="2.7" fill="#fe7f2a"/>
<circle cx="405.1" cy="680.8" r="2.7" fill="#fe7f2a"/>
<circle cx="400.8" cy="683.0" r="2.7" fill="#fe7f2a"/>
<circle cx="411.0" cy="681.9" r="2.7" fill="#fe7f2a"/>
<circle cx="413.2" cy="683.3" r="2.7" fill="#fe7f2a"/>
<circle cx="405.9" cy="685.2" r="2.7" fill="#fe7f2a"/>
<circle cx="407.3" cy="688.1" r="2.7" fill="#fe7f2a"/>
<circle cx="405.1" cy="691.7" r="2.7" fill="#fe7f2a"/>
<circle cx="400.0" cy="695.4" r="2.7" fill="#fe7f2a"/>
<circle cx="406.6" cy="694.7" r="2.7" fill="#fe7f2a"/>
<circle cx="406.6" cy="697.6" r="2.7" fill="#fe7f2a"/>
<circle cx="437.3" cy="680.1" r="2.7" fill="#fe7f2a"/>
<circle cx="493.9" cy="562.9" r="2.7" fill="#fe7f2a"/>
<circle cx="488.0" cy="569.0" r="2.7" fill="#fe7f2a"/>
<circle cx="497.9" cy="567.9" r="2.7" fill="#fe7f2a"/>
<circle cx="505.1" cy="572.2" r="2.7" fill="#fe7f2a"/>
<circle cx="517.7" cy="571.9" r="2.7" fill="#fe7f2a"/>
<circle cx="521.2" cy="574.3" r="2.7" fill="#fe7f2a"/>
<circle cx="475.0" cy="585.2" r="2.7" fill="#fe7f2a"/>
<circle cx="479.5" cy="585.8" r="2.7" fill="#fe7f2a"/>
<circle cx="480.3" cy="580.7" r="2.7" fill="#fe7f2a"/>
<circle cx="479.1" cy="583.4" r="2.7" fill="#fe7f2a"/>
<circle cx="489.9" cy="585.5" r="2.7" fill="#fe7f2a"/>
<circle cx="492.0" cy="584.6" r="2.7" fill="#fe7f2a"/>
<circle cx="503.5" cy="582.3" r="2.7" fill="#fe7f2a"/>
<circle cx="508.4" cy="580.5" r="2.7" fill="#fe7f2a"/>
<circle cx="511.1" cy="580.5" r="2.7" fill="#fe7f2a"/>
<circle cx="506.0" cy="592.7" r="2.7" fill="#fe7f2a"/>
<circle cx="477.8" cy="594.7" r="2.7" fill="#fe7f2a"/>
<circle cx="481.1" cy="593.9" r="2.7" fill="#fe7f2a"/>
<circle cx="485.6" cy="593.9" r="2.7" fill="#fe7f2a"/>
<circle cx="493.9" cy="593.9" r="2.7" fill="#fe7f2a"/>
<circle cx="497.1" cy="595.5" r="2.7" fill="#fe7f2a"/>
<circle cx="498.7" cy="597.1" r="2.7" fill="#fe7f2a"/>
<circle cx="477.8" cy="599.5" r="2.7" fill="#fe7f2a"/>
<circle cx="480.7" cy="602.2" r="2.7" fill="#fe7f2a"/>
<circle cx="491.5" cy="602.2" r="2.7" fill="#fe7f2a"/>
<circle cx="495.5" cy="598.7" r="2.7" fill="#fe7f2a"/>
<circle cx="494.7" cy="606.7" r="2.7" fill="#fe7f2a"/>
<circle cx="497.9" cy="605.1" r="2.7" fill="#fe7f2a"/>
<circle cx="499.5" cy="609.9" r="2.7" fill="#fe7f2a"/>
<circle cx="501.9" cy="607.5" r="2.7" fill="#fe7f2a"/>
<circle cx="509.5" cy="610.4" r="2.7" fill="#fe7f2a"/>
<circle cx="493.1" cy="613.1" r="2.7" fill="#fe7f2a"/>
<circle cx="484.0" cy="616.4" r="2.7" fill="#fe7f2a"/>
<circle cx="485.9" cy="620.4" r="2.7" fill="#fe7f2a"/>
<circle cx="492.3" cy="618.0" r="2.7" fill="#fe7f2a"/>
<circle cx="492.0" cy="622.3" r="2.7" fill="#fe7f2a"/>
<circle cx="490.4" cy="633.7" r="2.7" fill="#fe7f2a"/>
<circle cx="539.4" cy="573.0" r="2.7" fill="#fe7f2a"/>
<circle cx="547.7" cy="573.0" r="2.7" fill="#fe7f2a"/>
<circle cx="555.4" cy="571.1" r="2.7" fill="#fe7f2a"/>
<circle cx="542.9" cy="576.2" r="2.7" fill="#fe7f2a"/>
<circle cx="545.3" cy="577.8" r="2.7" fill="#fe7f2a"/>
<circle cx="542.9" cy="582.3" r="2.7" fill="#fe7f2a"/>
<circle cx="533.3" cy="587.4" r="2.7" fill="#fe7f2a"/>
<circle cx="538.1" cy="588.7" r="2.7" fill="#fe7f2a"/>
<circle cx="546.1" cy="592.6" r="2.7" fill="#fe7f2a"/>
<circle cx="549.3" cy="595.5" r="2.7" fill="#fe7f2a"/>
<circle cx="571.8" cy="578.1" r="2.7" fill="#fe7f2a"/>
<circle cx="565.9" cy="584.2" r="2.7" fill="#fe7f2a"/>
<circle cx="567.0" cy="587.4" r="2.7" fill="#fe7f2a"/>
<circle cx="565.4" cy="589.9" r="2.7" fill="#fe7f2a"/>
<circle cx="561.4" cy="592.6" r="2.7" fill="#fe7f2a"/>
<circle cx="574.2" cy="587.4" r="2.7" fill="#fe7f2a"/>
<circle cx="564.6" cy="597.9" r="2.7" fill="#fe7f2a"/>
<circle cx="566.5" cy="596.8" r="2.7" fill="#fe7f2a"/>
<circle cx="574.2" cy="597.1" r="2.7" fill="#fe7f2a"/>
<circle cx="565.9" cy="605.9" r="2.7" fill="#fe7f2a"/>
<circle cx="537.0" cy="608.0" r="2.7" fill="#fe7f2a"/>
<circle cx="551.7" cy="617.2" r="2.7" fill="#fe7f2a"/>
<circle cx="565.4" cy="619.2" r="2.7" fill="#fe7f2a"/>
<circle cx="575.0" cy="625.2" r="2.7" fill="#fe7f2a"/>
<circle cx="575.0" cy="630.0" r="2.7" fill="#fe7f2a"/>
<circle cx="619.2" cy="536.3" r="2.7" fill="#fe7f2a"/>
<circle cx="618.3" cy="555.6" r="2.7" fill="#fe7f2a"/>
<circle cx="634.3" cy="565.8" r="2.7" fill="#fe7f2a"/>
<circle cx="600.2" cy="573.4" r="2.7" fill="#fe7f2a"/>
<circle cx="621.2" cy="582.4" r="2.7" fill="#fe7f2a"/>
<circle cx="634.6" cy="582.4" r="2.7" fill="#fe7f2a"/>
<circle cx="665.2" cy="585.5" r="2.7" fill="#fe7f2a"/>
<circle cx="600.2" cy="592.7" r="2.7" fill="#fe7f2a"/>
<circle cx="620.4" cy="592.7" r="2.7" fill="#fe7f2a"/>
<circle cx="646.0" cy="592.7" r="2.7" fill="#fe7f2a"/>
<circle cx="604.7" cy="601.9" r="2.7" fill="#fe7f2a"/>
<circle cx="619.2" cy="601.1" r="2.7" fill="#fe7f2a"/>
<circle cx="616.5" cy="610.3" r="2.7" fill="#fe7f2a"/>
<circle cx="576.4" cy="622.4" r="2.7" fill="#fe7f2a"/>
<rect x="395.0" y="498.3" width="27.3" height="238.0" fill="none" stroke="#fe7f2a" stroke-width="2.9"/>
<rect x="42.6" y="485.8" width="641.8" height="256.7" fill="none" stroke="#555" stroke-width="1.1"/>
<line x1="121.5" y1="485.8" x2="121.5" y2="495.5" stroke="#555" stroke-width="1.1"/>
<line x1="121.5" y1="742.5" x2="121.5" y2="732.8" stroke="#555" stroke-width="1.1"/>
<line x1="203.0" y1="485.8" x2="203.0" y2="495.5" stroke="#555" stroke-width="1.1"/>
<line x1="203.0" y1="742.5" x2="203.0" y2="732.8" stroke="#555" stroke-width="1.1"/>
<line x1="281.9" y1="485.8" x2="281.9" y2="495.5" stroke="#555" stroke-width="1.1"/>
<line x1="281.9" y1="742.5" x2="281.9" y2="732.8" stroke="#555" stroke-width="1.1"/>
<line x1="363.5" y1="485.8" x2="363.5" y2="495.5" stroke="#555" stroke-width="1.1"/>
<line x1="363.5" y1="742.5" x2="363.5" y2="732.8" stroke="#555" stroke-width="1.1"/>
<line x1="445.0" y1="485.8" x2="445.0" y2="495.5" stroke="#555" stroke-width="1.1"/>
<line x1="445.0" y1="742.5" x2="445.0" y2="732.8" stroke="#555" stroke-width="1.1"/>
<line x1="523.9" y1="485.8" x2="523.9" y2="495.5" stroke="#555" stroke-width="1.1"/>
<line x1="523.9" y1="742.5" x2="523.9" y2="732.8" stroke="#555" stroke-width="1.1"/>
<line x1="605.4" y1="485.8" x2="605.4" y2="495.5" stroke="#555" stroke-width="1.1"/>
<line x1="605.4" y1="742.5" x2="605.4" y2="732.8" stroke="#555" stroke-width="1.1"/>
<line x1="42.6" y1="537.1" x2="52.1" y2="537.1" stroke="#555" stroke-width="1.1"/>
<line x1="684.4" y1="537.1" x2="674.9" y2="537.1" stroke="#555" stroke-width="1.1"/>
<line x1="42.6" y1="588.5" x2="52.1" y2="588.5" stroke="#555" stroke-width="1.1"/>
<line x1="684.4" y1="588.5" x2="674.9" y2="588.5" stroke="#555" stroke-width="1.1"/>
<line x1="42.6" y1="639.8" x2="52.1" y2="639.8" stroke="#555" stroke-width="1.1"/>
<line x1="684.4" y1="639.8" x2="674.9" y2="639.8" stroke="#555" stroke-width="1.1"/>
<line x1="42.6" y1="691.2" x2="52.1" y2="691.2" stroke="#555" stroke-width="1.1"/>
<line x1="684.4" y1="691.2" x2="674.9" y2="691.2" stroke="#555" stroke-width="1.1"/>
<text x="32.6" y="486.7" font-size="10.2" fill="#111" text-anchor="end">5</text>
<text x="32.6" y="538.0" font-size="10.2" fill="#111" text-anchor="end">10</text>
<text x="32.6" y="589.4" font-size="10.2" fill="#111" text-anchor="end">15</text>
<text x="32.6" y="640.7" font-size="10.2" fill="#111" text-anchor="end">20</text>
<text x="32.6" y="692.1" font-size="10.2" fill="#111" text-anchor="end">25</text>
<text x="32.6" y="743.4" font-size="10.2" fill="#111" text-anchor="end">30</text>
<text x="39.3" y="759.7" font-size="10.1" fill="#111" text-anchor="middle">Apr</text>
<text x="118.2" y="759.7" font-size="10.1" fill="#111" text-anchor="middle">May</text>
<text x="199.7" y="759.7" font-size="10.1" fill="#111" text-anchor="middle">Jun</text>
<text x="278.6" y="759.7" font-size="10.1" fill="#111" text-anchor="middle">Jul</text>
<text x="360.2" y="759.7" font-size="10.1" fill="#111" text-anchor="middle">Aug</text>
<text x="441.7" y="759.7" font-size="10.1" fill="#111" text-anchor="middle">Sep</text>
<text x="520.6" y="759.7" font-size="10.1" fill="#111" text-anchor="middle">Oct</text>
<text x="602.1" y="759.7" font-size="10.1" fill="#111" text-anchor="middle">Nov</text>
<text x="653.8" y="776.7" font-size="10.1" fill="#111" text-anchor="middle">2018</text>
<text x="338.2" y="776.8" font-size="11.1" fill="#111" text-anchor="middle">Time</text>
<text x="0" y="0" font-size="11.7" fill="#111" text-anchor="middle" transform="translate(9.9,619.5) rotate(-90)">Depth</text>
<text x="118.3" y="730.1" font-size="11.4" fill="#111" text-anchor="start">#1</text>
<text x="310.0" y="642.3" font-size="12.2" fill="#111" text-anchor="start">#2, #3, #4</text>
<text x="335.2" y="799.6" font-size="14.8" fill="#111" text-anchor="middle">(b)</text>
</svg>
</body></html>
